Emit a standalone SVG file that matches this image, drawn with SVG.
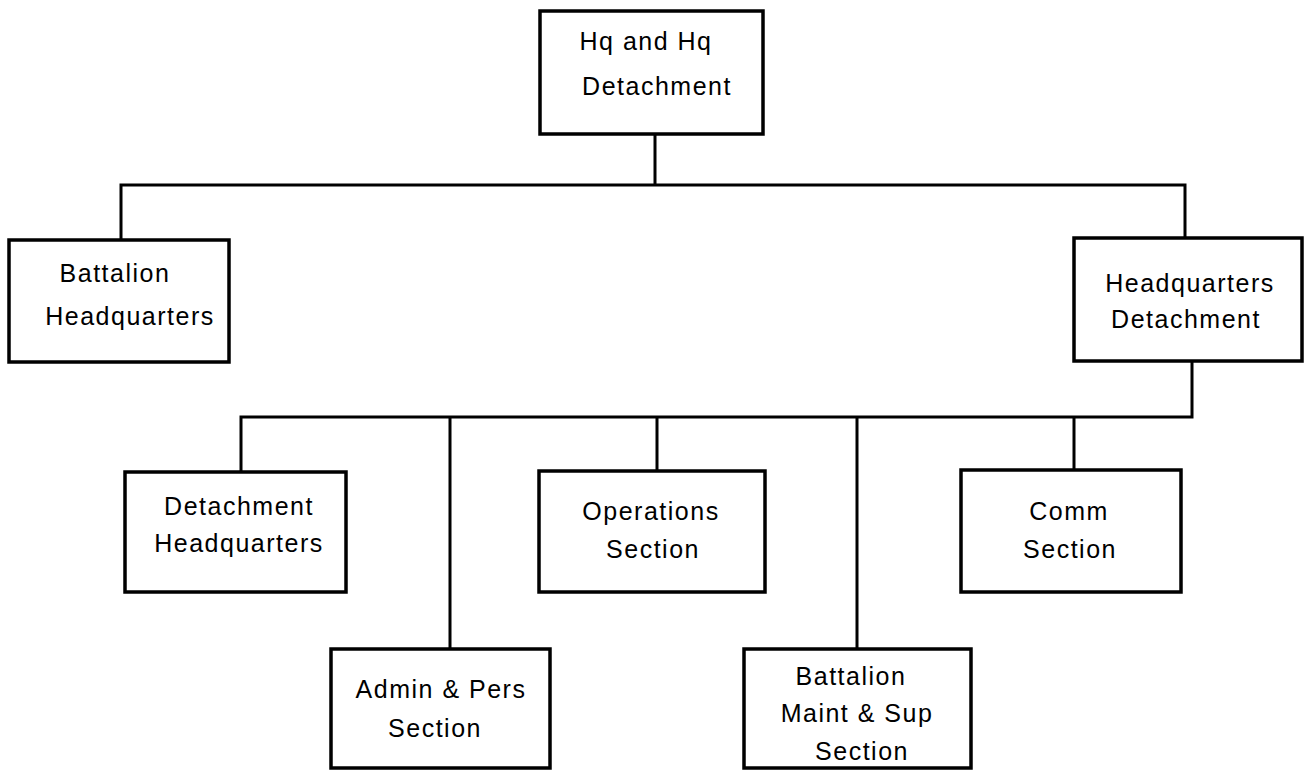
<svg xmlns="http://www.w3.org/2000/svg" width="1306" height="771" viewBox="0 0 1306 771">
<style>
.box{fill:#fff;stroke:#000;stroke-width:3.5}
.ln{fill:none;stroke:#000;stroke-width:3;stroke-linecap:square}
text{font-family:"Liberation Sans",Arial,sans-serif;font-size:25px;letter-spacing:1.5px;text-anchor:middle;fill:#000}
</style>
<rect width="1306" height="771" fill="#fff"/>
<g id="connectors">
<path class="ln" d="M655 134V185M121 240V185H1185V238"/>
<path class="ln" d="M1192 361V417H241V472M450 417V649M657 417V471M857 417V649M1074 417V470"/>
</g>
<g id="hq-and-hq">
<rect class="box" x="540" y="11" width="223" height="123"/>
<text x="646" y="50">Hq and Hq</text>
<text x="657" y="95">Detachment</text>
</g>
<g id="battalion-hq">
<rect class="box" x="9" y="240" width="220" height="122"/>
<text x="115" y="282">Battalion</text>
<text x="130" y="325">Headquarters</text>
</g>
<g id="hq-detachment">
<rect class="box" x="1074" y="238" width="228" height="123"/>
<text x="1190" y="292">Headquarters</text>
<text x="1186" y="328">Detachment</text>
</g>
<g id="detachment-hq">
<rect class="box" x="125" y="472" width="221" height="120"/>
<text x="239" y="515">Detachment</text>
<text x="239" y="552">Headquarters</text>
</g>
<g id="operations">
<rect class="box" x="539" y="471" width="226" height="121"/>
<text x="651" y="520">Operations</text>
<text x="653" y="558">Section</text>
</g>
<g id="comm">
<rect class="box" x="961" y="470" width="220" height="122"/>
<text x="1069" y="520">Comm</text>
<text x="1070" y="558">Section</text>
</g>
<g id="admin-pers">
<rect class="box" x="331" y="649" width="219" height="119"/>
<text x="441" y="698">Admin &amp; Pers</text>
<text x="435" y="737">Section</text>
</g>
<g id="battalion-maint">
<rect class="box" x="744" y="649" width="227" height="119"/>
<text x="851" y="685">Battalion</text>
<text x="857" y="722">Maint &amp; Sup</text>
<text x="862" y="760">Section</text>
</g>
</svg>
